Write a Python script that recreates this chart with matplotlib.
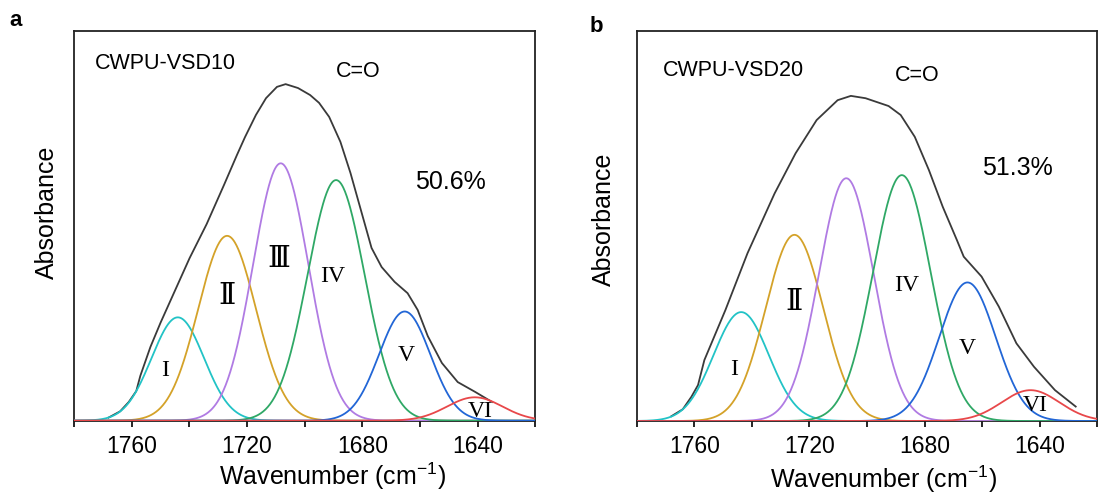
import numpy as np
import matplotlib
matplotlib.use("Agg")
import matplotlib.pyplot as plt
from matplotlib.ticker import MultipleLocator

plt.rcParams['font.family'] = ['Liberation Sans', 'DejaVu Sans']
plt.rcParams['mathtext.default'] = 'regular'

# ---------------- data ----------------
peak_names = ["I", "Ⅱ", "Ⅲ", "IV", "V", "VI"]
peak_colors = ["#22c3c6", "#d4a229", "#b07be3", "#2fa866", "#2266d6", "#e8484a"]

# panel a (CWPU-VSD10): fitted peak centres, heights and widths (sigma)
a_centers = [1744.0, 1726.9, 1708.3, 1689.1, 1665.3, 1641.0]
a_heights = [0.265, 0.474, 0.660, 0.617, 0.280, 0.060]
a_sigmas = [9.1, 10.0, 9.6, 9.9, 8.9, 9.6]

# panel b (CWPU-VSD20)
b_centers = [1743.7, 1725.2, 1707.2, 1687.9, 1665.1, 1643.2]
b_heights = [0.279, 0.477, 0.622, 0.630, 0.355, 0.079]
b_sigmas = [9.6, 10.0, 9.5, 10.0, 9.8, 10.0]

# measured envelope spectra
a_env_wn = [1768.0, 1764.0, 1761.0, 1758.4, 1757.0, 1753.5, 1750.0, 1745.5, 1739.9,
            1734.0, 1728.0, 1723.5, 1720.7, 1716.9, 1713.4, 1709.6, 1706.6, 1702.3,
            1698.1, 1695.0, 1691.5, 1687.6, 1684.1, 1680.3, 1676.8, 1673.3, 1668.8,
            1664.3, 1660.8, 1657.3, 1652.4, 1646.9, 1640.9, 1635.0]
a_env_abs = [0.008, 0.024, 0.048, 0.076, 0.115, 0.189, 0.251, 0.325, 0.417,
             0.504, 0.604, 0.681, 0.727, 0.784, 0.827, 0.856, 0.863, 0.853,
             0.835, 0.815, 0.779, 0.715, 0.635, 0.535, 0.443, 0.394, 0.356,
             0.327, 0.284, 0.217, 0.148, 0.099, 0.074, 0.048]

b_env_wn = [1768.0, 1764.0, 1761.0, 1758.7, 1756.5, 1749.2, 1741.5, 1732.1, 1724.8,
            1717.5, 1710.2, 1705.6, 1700.5, 1692.5, 1688.3, 1683.4, 1678.5, 1673.7,
            1668.8, 1666.4, 1660.2, 1654.2, 1648.1, 1642.0, 1634.7, 1627.5]
b_env_abs = [0.012, 0.030, 0.062, 0.092, 0.156, 0.284, 0.430, 0.583, 0.686,
             0.771, 0.822, 0.833, 0.827, 0.807, 0.784, 0.728, 0.643, 0.549,
             0.464, 0.421, 0.370, 0.293, 0.199, 0.139, 0.079, 0.037]

sample_names = ["CWPU-VSD10", "CWPU-VSD20"]
fractions = ["50.6%", "51.3%"]
xticks = [1760, 1720, 1680, 1640]

# label anchor positions (wavenumber, absorbance) for the peak numerals
a_label_pos = [(1748.4, 0.13), (1727.1, 0.317), (1708.9, 0.412), (1690.3, 0.371),
               (1664.7, 0.168), (1639.2, 0.023)]
b_label_pos = [(1746.1, 0.131), (1725.4, 0.302), None, (1686.1, 0.348),
               (1665.1, 0.187), (1641.4, 0.039)]
label_sizes = [17, 21, 21, 17, 17, 17]

W, H = 1098, 498
fig = plt.figure(figsize=(W / 100, H / 100), dpi=100)


def px_box(x0, y0, x1, y1):
    return [x0 / W, 1 - y1 / H, (x1 - x0) / W, (y1 - y0) / H]


axes_boxes = [px_box(74, 30.7, 535.3, 420.7), px_box(636.7, 30.7, 1097.3, 421)]
panels = [
    (a_centers, a_heights, a_sigmas, a_env_wn, a_env_abs, a_label_pos,
     (0.199, 0.916), (0.617, 0.895), (0.815, 0.611)),
    (b_centers, b_heights, b_sigmas, b_env_wn, b_env_abs, b_label_pos,
     (0.209, 0.899), (0.609, 0.884), (0.827, 0.647)),
]

wn = np.linspace(1780, 1620, 801)
serif = ['Liberation Serif', 'DejaVu Serif']

for k, (box, pan) in enumerate(zip(axes_boxes, panels)):
    cen, hts, sig, ewn, eab, lpos, p_name, p_co, p_frac = pan
    ax = fig.add_axes(box)
    ax.plot(ewn, eab, color="#3a3a3a", lw=1.3, zorder=2, solid_joinstyle='round')
    for c, h, s, col in zip(cen, hts, sig, peak_colors):
        ax.plot(wn, h * np.exp(-(wn - c) ** 2 / (2 * s ** 2)), color=col, lw=1.3, zorder=3)
    for name, pos, fs in zip(peak_names, lpos, label_sizes):
        if pos is None:
            continue
        ax.text(pos[0], pos[1], name, fontsize=fs, family=serif,
                ha='center', va='center', zorder=5)
    ax.text(*p_name, sample_names[k], transform=ax.transAxes, fontsize=15.5,
            ha='center', va='center')
    ax.text(*p_co, "C=O", transform=ax.transAxes, fontsize=15.5,
            ha='center', va='center')
    ax.text(*p_frac, fractions[k], transform=ax.transAxes, fontsize=18,
            ha='center', va='center')
    ax.set_xlim(1780, 1620)
    ax.set_ylim(0, 1)
    ax.set_xticks(xticks)
    ax.set_xticklabels([str(t) for t in xticks], fontsize=16.5)
    ax.xaxis.set_minor_locator(MultipleLocator(20))
    ax.tick_params(axis='x', which='both', direction='out', length=4, width=1.2, pad=6)
    ax.set_yticks([])
    for sp in ax.spines.values():
        sp.set_linewidth(1.3)
        sp.set_color('#222222')


def ftext(x, y, s, **kw):
    fig.text(x / W, 1 - y / H, s, **kw)


ftext(333, 476, "Wavenumber (cm$^{-1}$)", fontsize=18, ha='center', va='center')
ftext(884, 479, "Wavenumber (cm$^{-1}$)", fontsize=18, ha='center', va='center')
ftext(47, 212, "Absorbance", fontsize=18, rotation=90, ha='center', va='center')
ftext(603.5, 219, "Absorbance", fontsize=18, rotation=90, ha='center', va='center')
ftext(16, 20, "a", fontsize=16, fontweight='bold', ha='center', va='center')
ftext(596, 27, "b", fontsize=16, fontweight='bold', ha='center', va='center')

fig.savefig("out.png", dpi=100)
